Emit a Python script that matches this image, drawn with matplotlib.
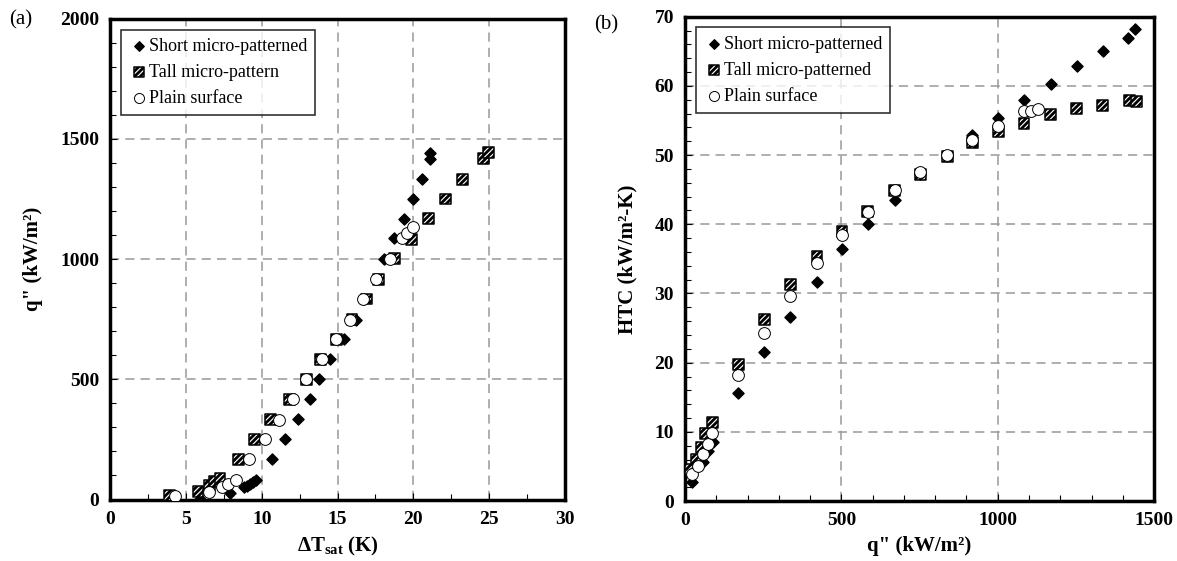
import matplotlib
matplotlib.use("Agg")
import matplotlib.pyplot as plt
from matplotlib.ticker import MultipleLocator

plt.rcParams['font.family'] = ['Liberation Serif', 'DejaVu Serif']
plt.rcParams['mathtext.fontset'] = 'custom'
plt.rcParams['mathtext.rm'] = 'Liberation Serif'
plt.rcParams['mathtext.bf'] = 'Liberation Serif:bold'
plt.rcParams['hatch.linewidth'] = 2.0

# (a) boiling curve: superheat (K) vs heat flux (kW/m2)
dT_short = [5.9, 7.9, 8.8, 9.0, 9.2, 9.4, 9.6, 10.7, 11.55, 12.4, 13.15, 13.75, 14.5, 15.4,
            16.2, 16.75, 17.55, 18.05, 18.7, 19.35, 19.95, 20.55, 21.1, 21.1]
q_short = [4, 28, 50, 56, 64, 74, 83, 167, 250, 336, 417, 501, 584, 667,
           748, 834, 917, 1000, 1087, 1169, 1250, 1333, 1416, 1441]

dT_tall = [3.95, 5.8, 6.55, 6.9, 7.25, 8.45, 9.55, 10.55, 11.85, 12.95, 13.9, 14.9, 15.95,
           16.9, 17.7, 18.75, 19.85, 21.0, 22.1, 23.25, 24.6, 24.95]
q_tall = [18, 32, 60, 74, 87, 167, 250, 333, 417, 501, 584, 667, 748,
          834, 917, 1004, 1083, 1169, 1250, 1333, 1420, 1444]

dT_plain = [4.3, 6.5, 7.4, 7.75, 8.3, 9.15, 10.2, 11.15, 12.05, 12.95, 13.95, 14.9, 15.85,
            16.7, 17.55, 18.45, 19.25, 19.6, 19.95]
q_plain = [14, 32, 53, 64, 83, 167, 250, 331, 417, 501, 584, 667, 748,
           834, 917, 1000, 1087, 1108, 1133]

# (b) heat flux vs HTC (kW/m2-K)
qb_short = [22, 58, 75, 90, 171, 254, 336, 421, 502, 585, 670, 753, 838, 918, 1000,
            1084, 1170, 1252, 1336, 1416, 1440]
htc_short = [2.7, 5.6, 7.3, 8.5, 15.6, 21.6, 26.6, 31.7, 36.4, 40.1, 43.5, 47.3, 49.9, 52.9, 55.3,
             57.9, 60.3, 62.8, 65.1, 66.9, 68.2]

qb_tall = [19, 38, 53, 67, 87, 171, 254, 336, 422, 502, 585, 670, 753, 838, 918, 1002,
           1084, 1170, 1252, 1334, 1422, 1443]
htc_tall = [4.6, 6.05, 7.75, 9.7, 11.3, 19.8, 26.2, 31.3, 35.4, 39.0, 41.8, 44.9, 47.2, 49.8, 51.8, 53.35,
            54.5, 55.8, 56.7, 57.2, 57.9, 57.8]

qb_plain = [21, 40, 57, 75, 87, 171, 254, 336, 422, 502, 585, 670, 753, 838, 918, 1000,
            1084, 1105, 1129]
htc_plain = [3.9, 5.1, 6.8, 8.2, 9.9, 18.2, 24.3, 29.7, 34.4, 38.5, 41.75, 44.9, 47.6, 50.0, 52.2, 54.15,
             56.4, 56.4, 56.7]

fig = plt.figure(figsize=(11.77, 5.61), dpi=100)
ax1 = fig.add_axes([0.0935, 0.1096, 0.3866, 0.857])
ax2 = fig.add_axes([0.582, 0.1068, 0.3985, 0.8635])


def draw(ax, xs, ys, labels):
    ax.scatter(xs[0], ys[0], marker='D', s=32, color='black', zorder=3, label=labels[0])
    ax.scatter(xs[1], ys[1], marker='s', s=62, facecolor='white', edgecolor='black',
               hatch='//////', linewidth=1.1, zorder=4, label=labels[1])
    ax.scatter(xs[2], ys[2], marker='o', s=72, facecolor='white', edgecolor='black',
               linewidth=0.7, zorder=5, label=labels[2])
    ax.grid(True, which='major', color='#999999', linestyle=(0, (6, 4)), linewidth=1.1)
    ax.set_axisbelow(True)
    for sp in ax.spines.values():
        sp.set_linewidth(2.5)
    ax.tick_params(which='both', direction='in', top=False, right=False, labelsize=14, pad=8)
    ax.tick_params(which='major', length=5, width=0.8)
    ax.tick_params(which='minor', length=4, width=0.8)
    leg = ax.legend(loc='upper left', prop={'size': 13}, frameon=True, fancybox=False,
                    edgecolor='black', borderaxespad=0.6, handletextpad=0.0,
                    handlelength=1.1, labelspacing=0.5, markerscale=0.85, borderpad=0.45)
    leg.get_frame().set_linewidth(1.2)


draw(ax1, [dT_short, dT_tall, dT_plain], [q_short, q_tall, q_plain],
     ['Short micro-patterned', 'Tall micro-pattern', 'Plain surface'])
ax1.set_xlim(0, 30)
ax1.set_ylim(0, 2000)
ax1.xaxis.set_major_locator(MultipleLocator(5))
ax1.xaxis.set_minor_locator(MultipleLocator(2.5))
ax1.yaxis.set_major_locator(MultipleLocator(500))
ax1.yaxis.set_minor_locator(MultipleLocator(100))
ax1.set_xlabel(r'$\mathbf{\Delta T_{sat}}$ (K)', fontsize=15, fontweight='bold', labelpad=5)
ax1.set_ylabel('q" (kW/m²)', fontsize=15, fontweight='bold', labelpad=12)

draw(ax2, [qb_short, qb_tall, qb_plain], [htc_short, htc_tall, htc_plain],
     ['Short micro-patterned', 'Tall micro-patterned', 'Plain surface'])
ax2.set_xlim(0, 1500)
ax2.set_ylim(0, 70)
ax2.xaxis.set_major_locator(MultipleLocator(500))
ax2.xaxis.set_minor_locator(MultipleLocator(100))
ax2.yaxis.set_major_locator(MultipleLocator(10))
ax2.yaxis.set_minor_locator(MultipleLocator(2))
ax2.set_xlabel('q" (kW/m²)', fontsize=15, fontweight='bold', labelpad=5)
ax2.set_ylabel('HTC (kW/m²-K)', fontsize=15, fontweight='bold', labelpad=12)

for ax in (ax1, ax2):
    for t in ax.get_xticklabels() + ax.get_yticklabels():
        t.set_fontweight('bold')

fig.text(0.008, 0.965, '(a)', fontsize=15, va='center')
fig.text(0.505, 0.955, '(b)', fontsize=15, va='center')

fig.savefig('out.png', dpi=100)
